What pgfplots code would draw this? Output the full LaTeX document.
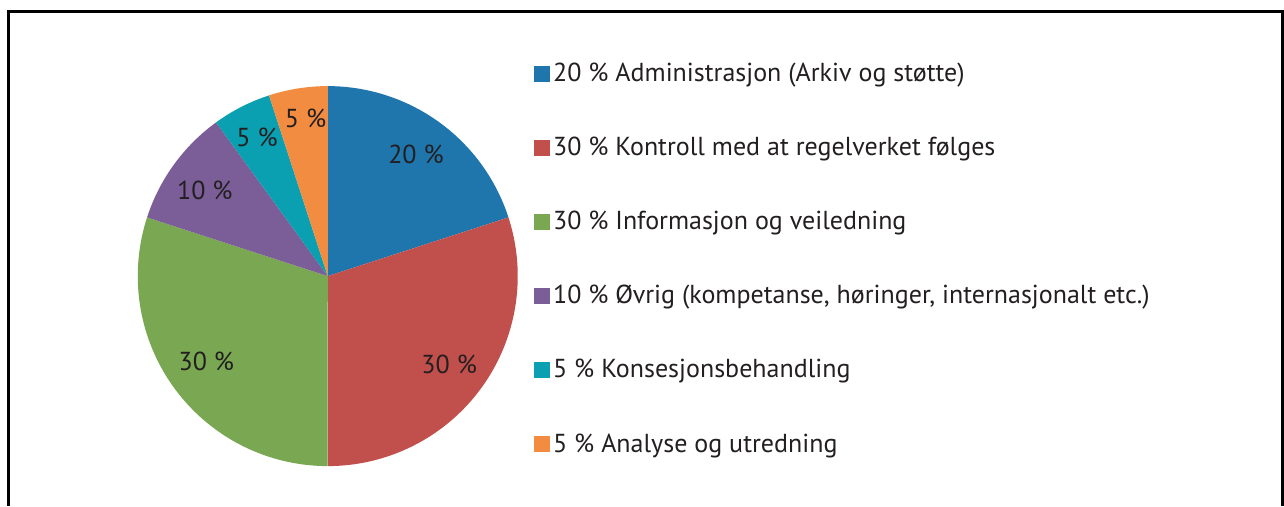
\documentclass[border=0pt]{standalone}
\usepackage{fontspec}
\setmainfont{PT Sans}
\usepackage{pgfplots}
\usepgfplotslibrary{polar}
\pgfplotsset{compat=1.18}
\definecolor{cBlue}{RGB}{31,118,173}
\definecolor{cRed}{RGB}{193,80,76}
\definecolor{cGreen}{RGB}{122,168,82}
\definecolor{cPurple}{RGB}{123,94,152}
\definecolor{cTeal}{RGB}{10,160,178}
\definecolor{cOrange}{RGB}{242,140,64}
\definecolor{txt}{RGB}{35,31,32}

% slice: #1 = share before it (%), #2 = share (%), #3 = colour; clockwise from 12 o'clock
\newcommand\slice[3]{%
  \addplot[fill=#3, draw=none, domain={90-3.6*(#1+#2)}:{90-3.6*(#1)}, samples=80] {1} -- (axis cs:0,0) -- cycle;}

\begin{document}
\begin{tikzpicture}[x=1bp, y=1bp, font=\fontsize{13bp}{15bp}\selectfont, text=txt]
\useasboundingbox (0,0) rectangle (642,253);
\draw[line width=1.5bp] (4,0) -- (4,247) -- (641,247) -- (641,0);
\begin{polaraxis}[
    at={(172.5,121)}, anchor=center,
    width=190bp, height=190bp, scale only axis,
    hide axis, clip=false,
    xmin=0, xmax=360, ymin=0, ymax=1,
    legend cell align=left,
    legend style={at={(1.042,1.07)}, anchor=north west, draw=none, fill=none,
      inner sep=0pt, row sep=23.3bp, font=\fontsize{13bp}{15bp}\selectfont,
      text=txt, nodes={inner sep=1.5bp}},
    legend image code/.code={\fill[#1] (0bp,-4bp) rectangle (8bp,4bp);},
  ]
  \slice{0}{20}{cBlue}
  \slice{20}{30}{cRed}
  \slice{50}{30}{cGreen}
  \slice{80}{10}{cPurple}
  \slice{90}{5}{cTeal}
  \slice{95}{5}{cOrange}
  \node at (axis cs:54,0.79) {20 \%};
  \node at (axis cs:-36,0.79) {30 \%};
  \node at (axis cs:215,0.78) {30 \%};
  \node at (axis cs:145,0.79) {10 \%};
  \node at (axis cs:117,0.82) {5 \%};
  \node at (axis cs:98,0.84) {5 \%};
  \legend{20 \% Administrasjon (Arkiv og støtte),
    30 \% Kontroll med at regelverket følges,
    30 \% Informasjon og veiledning,
    {10 \% Øvrig (kompetanse, høringer, internasjonalt etc.)},
    5 \% Konsesjonsbehandling,
    5 \% Analyse og utredning}
\end{polaraxis}
\end{tikzpicture}
\end{document}
